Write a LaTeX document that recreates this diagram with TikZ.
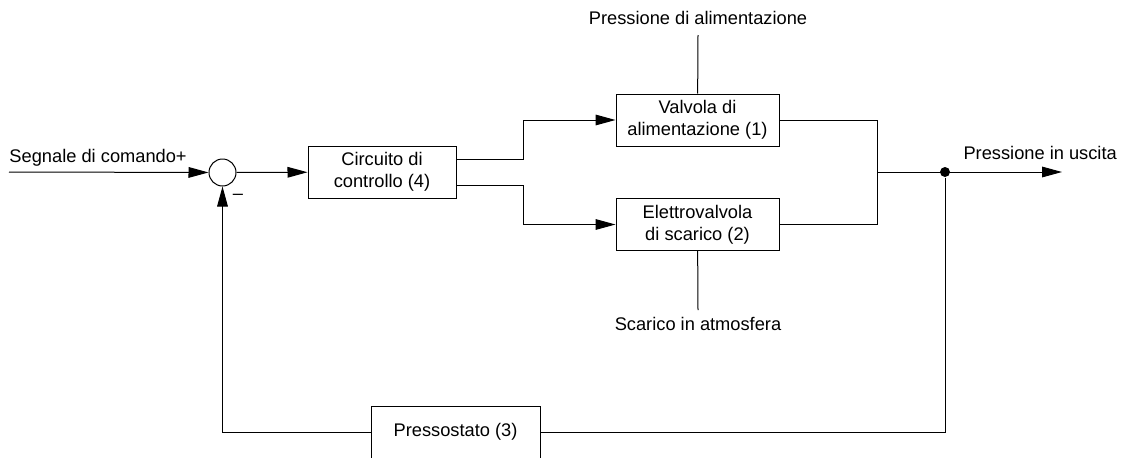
\documentclass[tikz,border=0pt]{standalone}
\usepackage{fontspec}
\setmainfont{Liberation Sans}
\usetikzlibrary{arrows.meta}
\tikzset{
  blk/.style={draw,line width=0.75pt,align=center,minimum height=39pt},
  lbl/.style={inner sep=0pt},
  arr/.style={-{Triangle[length=15pt,width=8pt]}},
  every node/.style={font=\fontsize{13.7}{16.5}\selectfont},
}
\begin{document}
\begin{tikzpicture}[x=0.75pt,y=-0.75pt,line width=0.75pt]
    \useasboundingbox (0,0) rectangle (1121,457);

    \node [draw,circle,minimum size=20.25pt,inner sep=0pt] (sum) at (222.5,172.5) {};
    \node [blk,minimum width=111pt] (ctrl) at (382,172) {Circuito di\\controllo (4)};
    \node [blk,minimum width=122.25pt] (valv) at (697.5,120) {Valvola di\\alimentazione (1)};
    \node [blk,minimum width=122.25pt] (scar) at (697.5,224.5) {Elettrovalvola\\di scarico (2)};
    \node [blk,minimum width=126.75pt,minimum height=39pt] (press) at (455.5,432) {Pressostato (3)};
    \node [circle,fill,inner sep=0pt,minimum size=7.5pt] (dot) at (945,172) {};

    \coordinate (in) at (9,172);
    \coordinate (out) at (1062,172);
    \coordinate (join) at (877,172);
    \coordinate (sup) at (698,35);
    \coordinate (exh) at (698,310);

    \node [lbl,anchor=base west] (intxt) at (9,162) {Segnale di comando+};
    \node [lbl,anchor=base west] (outtxt) at (963,159) {Pressione in uscita};
    \node [lbl,anchor=base] (suptxt) at (698,24) {Pressione di alimentazione};
    \node [lbl,anchor=base] (exhtxt) at (698,330) {Scarico in atmosfera};
    \node [lbl] (minus) at (238,197) {–};

    \draw[arr] (in) -- (sum);
    \draw[arr] (sum) -- (ctrl);
    \draw[arr] ([yshift=9.75pt]ctrl.east) -- ++(67,0) |- (valv);
    \draw[arr] ([yshift=-9.75pt]ctrl.east) -- ++(67,0) |- (scar);
    \draw (sup) -- (valv);
    \draw (scar) -- (exh);
    \draw (valv) -| (join);
    \draw (scar) -| (join);
    \draw[arr] (join) -- (out);
    \draw (dot) |- (press);
    \draw[arr] (press) -| (sum);

  \end{tikzpicture}
\end{document}
